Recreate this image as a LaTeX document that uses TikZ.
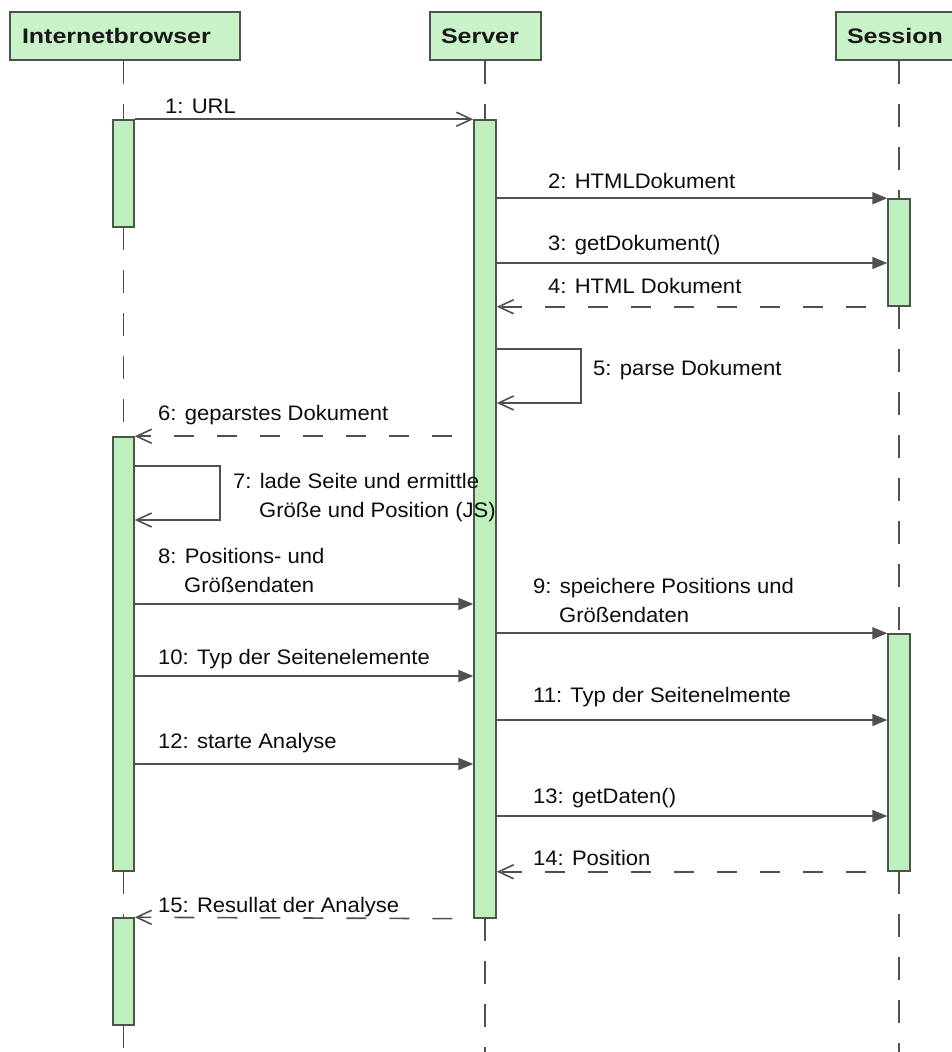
\documentclass[tikz,border=0pt]{standalone}
\usepackage{fontspec}
\setmainfont{Liberation Sans}
\newfontfamily\hdfont[FakeStretch=1.19]{Liberation Sans}
\newfontfamily\lbfont[FakeStretch=1.05]{Liberation Sans}
\usetikzlibrary{arrows.meta}
\definecolor{hdrfill}{RGB}{200,242,200}
\definecolor{barfill}{RGB}{190,240,190}
\definecolor{edgecol}{RGB}{75,85,75}
\definecolor{wire}{RGB}{80,80,80}
\tikzset{
  hdr/.style={draw=edgecol, fill=hdrfill, line width=1.5pt, minimum height=48pt, inner sep=0pt, align=left,
    font=\hdfont\bfseries\fontsize{21}{25}\selectfont, text=black!90},
  actbar/.style={draw=edgecol, fill=barfill, line width=1.5pt, minimum width=21pt, inner sep=0pt},
  lifeline/.style={draw=wire, line width=1.8pt, dash pattern=on 23pt off 20pt},
  callmsg/.style={draw=wire, line width=1.6pt, -{Triangle[length=15pt,width=12pt]}},
  openmsg/.style={draw=wire, line width=1.6pt, -{Straight Barb[length=15pt,width=14pt]}},
  retmsg/.style={openmsg, dash pattern=on 20pt off 23pt, dash phase=22pt},
  lbl/.style={anchor=base west, inner sep=0pt, align=left,
    font=\lbfont\fontsize{21}{29}\selectfont, text=black!95},
}
\begin{document}
\begin{tikzpicture}[x=1pt,y=-1pt]
\fill[white] (0,0) rectangle (952,1052);
\useasboundingbox (0,0) rectangle (952,1052);

% headers
\node[hdr, minimum width=230pt, text width=206pt] (ib) at (125,36) {Internetbrowser};
\node[hdr, minimum width=111pt, text width=89pt] (sv) at (485.5,36) {Server};
\node[hdr, minimum width=126pt, text width=104pt] (ss) at (899,36) {Session};

% activation bars (positions)
\coordinate (b1c) at (123.5,173.5);
\coordinate (b2c) at (123.5,654);
\coordinate (b3c) at (123.5,971.5);
\coordinate (s1c) at (485,519);
\coordinate (se1c) at (899,252.5);
\coordinate (se2c) at (899,752.5);
\coordinate (ibend) at (123.5,1052);
\coordinate (svend) at (485,1052);
\coordinate (ssend) at (899,1052);

% lifelines
\draw[lifeline] (b1c |- ib.south) -- (123.5,120);
\draw[lifeline] (123.5,227) -- (123.5,437);
\draw[lifeline] (123.5,871) -- (123.5,918);
\draw[lifeline] (123.5,1025) -- (ibend);
\draw[lifeline] (s1c |- sv.south) -- (485,120);
\draw[lifeline] (485,918) -- (svend);
\draw[lifeline] (se1c |- ss.south) -- (899,199);
\draw[lifeline] (899,306) -- (899,634);
\draw[lifeline] (899,871) -- (ssend);

\node[actbar, minimum height=107pt] (b1) at (b1c) {};
\node[actbar, minimum height=434pt] (b2) at (b2c) {};
\node[actbar, minimum height=107pt] (b3) at (b3c) {};
\node[actbar, minimum width=22pt, minimum height=798pt] (s1) at (s1c) {};
\node[actbar, minimum width=22pt, minimum height=107pt] (se1) at (se1c) {};
\node[actbar, minimum width=22pt, minimum height=237pt] (se2) at (se2c) {};

% message levels
\coordinate (y3) at (0,263);
\coordinate (y5a) at (0,349);
\coordinate (y5b) at (0,403);
\coordinate (y7a) at (0,466);
\coordinate (y7b) at (0,520);
\coordinate (y8) at (0,604);
\coordinate (y10) at (0,676);
\coordinate (y11) at (0,720);
\coordinate (y12) at (0,764);
\coordinate (y13) at (0,816);
\coordinate (x5) at (581,0);
\coordinate (x7) at (220,0);

% messages
\draw[openmsg] (b1.north east) -- (s1.north west);
\draw[callmsg] (s1.east |- se1.north) -- (se1.north west);
\draw[callmsg] (s1.east |- y3) -- (se1.west |- y3);
\draw[retmsg] (se1.south west) -- (s1.east |- se1.south);
\draw[openmsg] (s1.east |- y5a) -- (x5 |- y5a) -- (x5 |- y5b) -- (s1.east |- y5b);
\draw[retmsg] (s1.west |- b2.north) -- (b2.north east);
\draw[openmsg] (b2.east |- y7a) -- (x7 |- y7a) -- (x7 |- y7b) -- (b2.east |- y7b);
\draw[callmsg] (b2.east |- y8) -- (s1.west |- y8);
\draw[callmsg] (s1.east |- se2.north) -- (se2.north west);
\draw[callmsg] (b2.east |- y10) -- (s1.west |- y10);
\draw[callmsg] (s1.east |- y11) -- (se2.west |- y11);
\draw[callmsg] (b2.east |- y12) -- (s1.west |- y12);
\draw[callmsg] (s1.east |- y13) -- (se2.west |- y13);
\draw[retmsg] (se2.south west) -- (s1.east |- se2.south);
\draw[retmsg] (s1.south west) -- (b3.north east);

% labels (multi-line labels: base is the last line's baseline)
\node[lbl] (l1) at (165,113) {1: URL};
\node[lbl] (l2) at (548,188) {2: HTMLDokument};
\node[lbl] (l3) at (548,250) {3: getDokument()};
\node[lbl] (l4) at (548,293) {4: HTML Dokument};
\node[lbl] (l5) at (593,375) {5: parse Dokument};
\node[lbl] (l6) at (158,420) {6: geparstes Dokument};
\node[lbl] (l7) at (233,517) {7: lade Seite und ermittle\\\hspace*{26pt}Größe und Position (JS)};
\node[lbl] (l8) at (158,592) {8: Positions- und\\\hspace*{26pt}Größendaten};
\node[lbl] (l9) at (533,622) {9: speichere Positions und\\\hspace*{26pt}Größendaten};
\node[lbl] (l10) at (158,664) {10: Typ der Seitenelemente};
\node[lbl] (l11) at (533,702) {11: Typ der Seitenelmente};
\node[lbl] (l12) at (158,748) {12: starte Analyse};
\node[lbl] (l13) at (533,803) {13: getDaten()};
\node[lbl] (l14) at (533,865) {14: Position};
\node[lbl] (l15) at (158,912) {15: Resullat der Analyse};
\end{tikzpicture}
\end{document}
